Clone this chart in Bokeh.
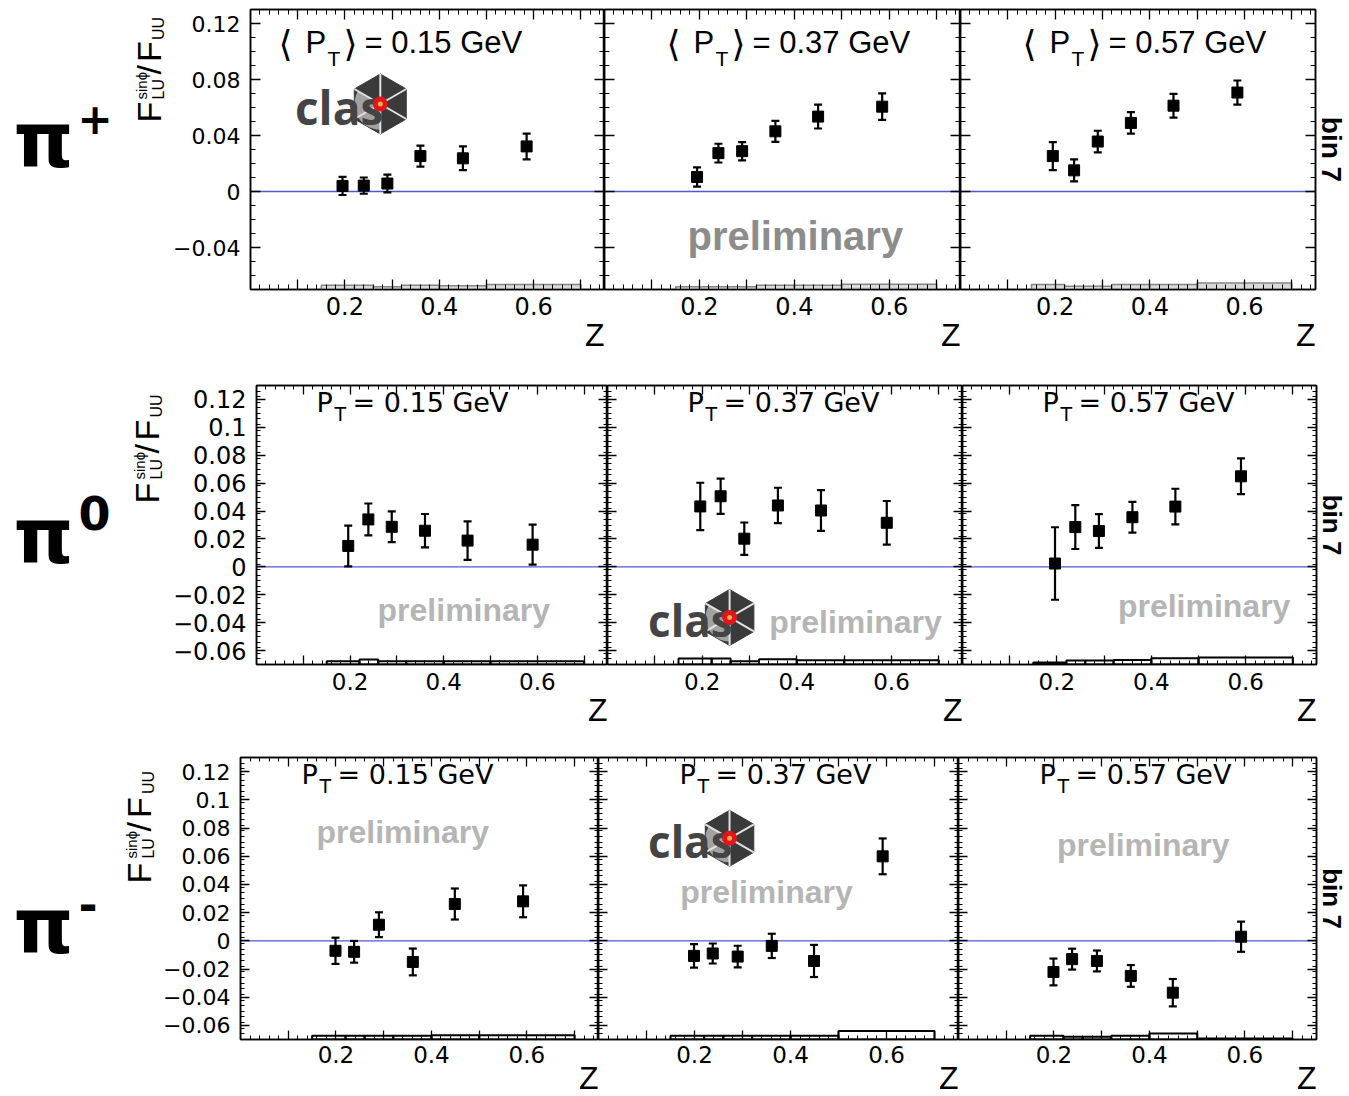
import math
from bokeh.plotting import figure
from bokeh.layouts import column, row
from bokeh.models import (ColumnDataSource, Whisker, TeeHead, Span, Label, Title,
                          LinearAxis, FixedTicker, Range1d)
from bokeh.core.properties import value
from bokeh.embed import file_html
from bokeh.resources import INLINE

# ------------------------------------------------------------------ data
hadron_names = ["π", "π", "π"]
hadron_charges = ["+", "0", "-"]
pt_means = ["0.15", "0.37", "0.57"]

z_pip = [0.195, 0.240, 0.290, 0.360, 0.450, 0.585]
z_pi0 = [0.196, 0.239, 0.289, 0.360, 0.451, 0.590]
z_pim = [0.199, 0.238, 0.290, 0.361, 0.449, 0.592]
z_bin_edges = [0.15, 0.22, 0.26, 0.32, 0.40, 0.50, 0.70]

# pi+  (F_LU^sin(phi)/F_UU, stat. error, systematic band height)
pip_pt015 = [0.0040, 0.0042, 0.0057, 0.0253, 0.0237, 0.0322]
pip_pt015_err = [0.0065, 0.0058, 0.0063, 0.0075, 0.0085, 0.0092]
pip_pt015_sys = [0.0030, 0.0030, 0.0020, 0.0030, 0.0027, 0.0035]
pip_pt037 = [0.0104, 0.0274, 0.0288, 0.0430, 0.0535, 0.0606]
pip_pt037_err = [0.0069, 0.0067, 0.0065, 0.0075, 0.0085, 0.0095]
pip_pt037_sys = [0.0020, 0.0020, 0.0020, 0.0030, 0.0030, 0.0038]
pip_pt057 = [0.0253, 0.0151, 0.0357, 0.0490, 0.0613, 0.0707]
pip_pt057_err = [0.0100, 0.0079, 0.0077, 0.0077, 0.0085, 0.0086]
pip_pt057_sys = [0.0036, 0.0024, 0.0024, 0.0036, 0.0036, 0.0047]

# pi0
pi0_pt015 = [0.0150, 0.0340, 0.0287, 0.0259, 0.0188, 0.0159]
pi0_pt015_err = [0.0146, 0.0114, 0.0110, 0.0120, 0.0138, 0.0143]
pi0_pt015_sys = [0.0024, 0.0036, 0.0024, 0.0024, 0.0024, 0.0024]
pi0_pt037 = [0.0433, 0.0506, 0.0202, 0.0440, 0.0404, 0.0316]
pi0_pt037_err = [0.0170, 0.0126, 0.0116, 0.0127, 0.0146, 0.0156]
pi0_pt037_sys = [0.0043, 0.0043, 0.0024, 0.0038, 0.0031, 0.0031]
pi0_pt057 = [0.0024, 0.0285, 0.0257, 0.0356, 0.0432, 0.0649]
pi0_pt057_err = [0.0260, 0.0157, 0.0121, 0.0110, 0.0128, 0.0128]
pi0_pt057_sys = [0.0014, 0.0028, 0.0028, 0.0033, 0.0045, 0.0050]

# pi-
pim_pt015 = [-0.0071, -0.0078, 0.0114, -0.0150, 0.0261, 0.0280]
pim_pt015_err = [0.0093, 0.0077, 0.0088, 0.0095, 0.0110, 0.0113]
pim_pt015_sys = [0.0026, 0.0026, 0.0026, 0.0026, 0.0030, 0.0030]
pim_pt037 = [-0.0107, -0.0090, -0.0112, -0.0036, -0.0143, 0.0599]
pim_pt037_err = [0.0083, 0.0071, 0.0077, 0.0086, 0.0114, 0.0127]
pim_pt037_sys = [0.0026, 0.0026, 0.0026, 0.0026, 0.0026, 0.0060]
pim_pt057 = [-0.0221, -0.0130, -0.0143, -0.0249, -0.0368, 0.0029]
pim_pt057_err = [0.0095, 0.0074, 0.0074, 0.0077, 0.0097, 0.0107]
pim_pt057_sys = [0.0026, 0.0019, 0.0019, 0.0026, 0.0043, 0.0007]

x_major_ticks = [0.1, 0.2, 0.3, 0.4, 0.5, 0.6, 0.7]
x_tick_labels = ["", "0.2", "", "0.4", "", "0.6", ""]
y_ticks_row1 = [-0.04, 0.0, 0.04, 0.08, 0.12]
y_labels_row1 = ["\u22120.04", "0", "0.04", "0.08", "0.12"]
y_ticks_rows23 = [-0.06, -0.04, -0.02, 0.0, 0.02, 0.04, 0.06, 0.08, 0.1, 0.12]
y_labels_rows23 = ["\u22120.06", "\u22120.04", "\u22120.02", "0", "0.02", "0.04",
                   "0.06", "0.08", "0.1", "0.12"]

DATA = [
    [(z_pip, pip_pt015, pip_pt015_err, pip_pt015_sys),
     (z_pip, pip_pt037, pip_pt037_err, pip_pt037_sys),
     (z_pip, pip_pt057, pip_pt057_err, pip_pt057_sys)],
    [(z_pi0, pi0_pt015, pi0_pt015_err, pi0_pt015_sys),
     (z_pi0, pi0_pt037, pi0_pt037_err, pi0_pt037_sys),
     (z_pi0, pi0_pt057, pi0_pt057_err, pi0_pt057_sys)],
    [(z_pim, pim_pt015, pim_pt015_err, pim_pt015_sys),
     (z_pim, pim_pt037, pim_pt037_err, pim_pt037_sys),
     (z_pim, pim_pt057, pim_pt057_err, pim_pt057_sys)],
]

# ------------------------------------------------------------------ layout / style
X0, X1 = 0.0, 0.75
Y0, Y1 = -0.07, 0.13
BASE_CORR = 0.33          # alphabetic-baseline correction (fraction of font size)

ROWS = [
    dict(H=375, left=250, lw=170, widths=[354, 356, 356], top=9, fh=280, right=33,
         yt=y_ticks_row1, yl=y_labels_row1, ystep=0.01, ytick_px=22, xtick_px=24,
         xstand=7, z_stand=-6, major_in=10, minor_in=5,
         pi=(13, 156, 76), sup=(77, 123, 42),
         ytitle=(160, 113, 0.96), bin_px=28),
    dict(H=375, left=253, lw=169, widths=[354, 355, 356], top=10, fh=279, right=31,
         yt=y_ticks_rows23, yl=y_labels_rows23, ystep=0.004, ytick_px=24, xtick_px=23,
         xstand=8, z_stand=-6, major_in=9, minor_in=4,
         pi=(13, 176, 76), sup=(78, 143, 46),
         ytitle=(158, 118, 1.0), bin_px=26),
    dict(H=346, left=240, lw=160, widths=[358, 360, 361], top=7, fh=282, right=30,
         yt=y_ticks_rows23, yl=y_labels_rows23, ystep=0.004, ytick_px=22, xtick_px=23,
         xstand=6, z_stand=-15, major_in=9, minor_in=4,
         pi=(13, 194, 76), sup=(78, 162, 46),
         ytitle=(150, 126, 1.04), bin_px=26),
]

# "preliminary" watermark positions (data coords, centre / baseline) per panel
PRELIM = {
    (0, 1): (0.402, -0.041, 40, "#8c8c8c"),
    (1, 0): (0.443, -0.0385, 32, "#b5b5b5"),
    (1, 1): (0.524, -0.047, 32, "#b5b5b5"),
    (1, 2): (0.512, -0.0356, 32, "#b5b5b5"),
    (2, 0): (0.340, 0.070, 32, "#b5b5b5"),
    (2, 1): (0.350, 0.027, 32, "#b5b5b5"),
    (2, 2): (0.387, 0.0606, 32, "#b5b5b5"),
}
# CLAS logo (hexagon centre in data coords, hex size px, text px)
LOGO = {
    (0, 0): (0.275, 0.0625, 60, 46),
    (1, 1): (0.258, -0.0363, 56, 44),
    (2, 1): (0.273, 0.0727, 56, 44),
}


def frame_label(p, text, dx, dy, size, font="Liberation Sans", style="normal",
                color="black", align="left", x0=X0, y0=Y1, angle=0.0):
    """Text whose baseline start sits dx, dy pixels (y down) from the frame's top-left."""
    c = BASE_CORR * size
    if angle == 0.0:
        xo, yo = dx, -(dy - c)
    else:                       # rotated by +90 deg: text 'up' points to screen left
        xo, yo = dx - c, -dy
    p.add_layout(Label(x=x0, y=y0, x_offset=xo, y_offset=yo,
                       text=text, text_font=font, text_font_size=f"{size}px",
                       text_font_style=style, text_color=color, angle=angle,
                       text_align=align, text_baseline="alphabetic"))


def style_axis(ax, ticks, minor, labels, show, font_px, standoff, major_in, minor_in):
    ax.ticker = FixedTicker(ticks=ticks, minor_ticks=minor)
    ax.major_tick_in = major_in
    ax.major_tick_out = 0
    ax.minor_tick_in = minor_in
    ax.minor_tick_out = 0
    ax.axis_line_color = "black"
    ax.axis_line_width = 1.5
    ax.major_tick_line_color = "black"
    ax.major_tick_line_width = 1.3
    ax.minor_tick_line_color = "black"
    ax.minor_tick_line_width = 1.0
    if show:
        ax.major_label_overrides = {t: l for t, l in zip(ticks, labels)}
        ax.major_label_text_font = "DejaVu Sans"
        ax.major_label_text_font_size = f"{font_px}px"
        ax.major_label_text_color = "black"
        ax.major_label_standoff = standoff
    else:
        ax.major_label_text_color = None
        ax.major_label_text_font_size = "0px"
        ax.major_label_standoff = 0


def make_panel(ri, ci):
    cfg = ROWS[ri]
    w = cfg["widths"][ci]
    ml = (cfg["left"] - cfg["lw"]) if ci == 0 else 0
    mr = cfg["right"] if ci == 2 else 0
    H = cfg["H"]
    bottom = H - cfg["top"] - cfg["fh"]
    p = figure(width=ml + w + mr, height=H,
               x_range=Range1d(X0, X1), y_range=Range1d(Y0, Y1),
               x_axis_location=None, y_axis_location=None,
               output_backend="svg", toolbar_location=None,
               min_border_left=ml, min_border_right=mr,
               min_border_top=cfg["top"], min_border_bottom=bottom)
    p.grid.visible = False
    p.outline_line_color = "black"
    p.outline_line_width = 1.5
    p.background_fill_color = "white"
    p.border_fill_color = "white"

    ppx = w / (X1 - X0)
    ppy = cfg["fh"] / (Y1 - Y0)

    x_minor = [round(0.02 * i, 3) for i in range(38)]
    y_minor = [round(Y0 + cfg["ystep"] * i, 4)
               for i in range(int(round((Y1 - Y0) / cfg["ystep"])) + 1)]

    for loc in ("below", "above"):
        ax = LinearAxis()
        style_axis(ax, x_major_ticks, x_minor, x_tick_labels, loc == "below",
                   cfg["xtick_px"], cfg["xstand"], cfg["major_in"], cfg["minor_in"])
        p.add_layout(ax, loc)
    for loc in ("left", "right"):
        ax = LinearAxis()
        style_axis(ax, cfg["yt"], y_minor, cfg["yl"], (loc == "left" and ci == 0),
                   cfg["ytick_px"], 10, cfg["major_in"], cfg["minor_in"])
        p.add_layout(ax, loc)

    # axis title "Z" below the axis, right-aligned
    p.add_layout(Title(text="Z", align="right", text_font="Liberation Sans",
                       text_font_size="32px", text_font_style="normal",
                       text_color="black", standoff=cfg["z_stand"]), "below")
    if ci == 2:
        p.add_layout(Title(text="bin 7", align="center", text_font="Liberation Sans",
                           text_font_size=f"{cfg['bin_px']}px", text_font_style="bold",
                           text_color="black", standoff=1), "right")

    z, vals, errs, sys_ = DATA[ri][ci]

    # zero line
    p.add_layout(Span(location=0, dimension="width", line_color="#4a5ad8",
                      line_width=1.3, level="underlay"))

    # systematic band at bottom
    sys_src = ColumnDataSource(dict(left=z_bin_edges[:-1], right=z_bin_edges[1:],
                                    bottom=[Y0] * len(sys_),
                                    top=[Y0 + s for s in sys_]))
    if ri == 0:
        p.quad(left="left", right="right", bottom="bottom", top="top", source=sys_src,
               fill_color="#d9d9d9", line_color="#858585", line_width=1.5)
    else:
        p.quad(left="left", right="right", bottom="bottom", top="top", source=sys_src,
               fill_color=None, line_color="black", line_width=2)

    # watermark
    if (ri, ci) in PRELIM:
        px_, py_, sz, col = PRELIM[(ri, ci)]
        p.add_layout(Label(x=px_, y=py_, y_offset=BASE_CORR * sz, text="preliminary",
                           text_font="Liberation Sans", text_font_style="bold",
                           text_font_size=f"{sz}px", text_color=col,
                           text_align="center", text_baseline="alphabetic",
                           level="underlay"))

    # logo
    if (ri, ci) in LOGO:
        hx, hy, hs, ts = LOGO[(ri, ci)]
        p.scatter(x=[hx], y=[hy], marker="hex", size=hs, angle=math.pi / 6,
                  fill_color="#3a3a3a", line_color="#3a3a3a")
        p.wedge(x=[hx], y=[hy], radius=hs * 0.43, radius_units="screen",
                start_angle=math.radians(150), end_angle=math.radians(270),
                fill_color="#a2a2a2", line_color=None)
        p.ray(x=[hx] * 6, y=[hy] * 6, length=hs / 2, length_units="screen",
              angle=[math.radians(a) for a in (30, 90, 150, 210, 270, 330)],
              line_color="#e2e2e2", line_width=2)
        ty = hy - (0.38 * hs - 0.42 * ts) / ppy
        p.text(x=[hx + 3 / ppx], y=[ty], text=["clas"], text_font=value("Open Sans"),
               text_font_size=f"{ts}px", text_font_style="bold", text_color="#444444",
               text_align="right", text_baseline="alphabetic")
        p.scatter(x=[hx], y=[hy], marker="circle", size=15, fill_color="#e3141c",
                  line_color=None)
        p.scatter(x=[hx], y=[hy], marker="circle", size=5, fill_color="#f3b23a",
                  line_color=None)

    # data points with statistical errors
    src = ColumnDataSource(dict(z=z, a=vals,
                                lo=[v - e for v, e in zip(vals, errs)],
                                hi=[v + e for v, e in zip(vals, errs)]))
    lw = 2.2
    p.add_layout(Whisker(source=src, base="z", lower="lo", upper="hi",
                         line_color="black", line_width=lw,
                         upper_head=TeeHead(size=8, line_width=lw, line_color="black"),
                         lower_head=TeeHead(size=8, line_width=lw, line_color="black")))
    p.scatter(x="z", y="a", source=src, marker="square", size=11,
              fill_color="black", line_color="black")

    # panel title
    pt = pt_means[ci]
    if ri == 0:
        d0 = 30 if ci == 0 else 64
        f = "Liberation Sans"
        frame_label(p, "\u27e8", d0 - 2, 46, 36, font="DejaVu Sans")
        frame_label(p, "P", d0 + 25, 43, 31, font=f)
        frame_label(p, "T", d0 + 47, 56, 21, font=f)
        frame_label(p, "\u27e9", d0 + 63, 46, 36, font="DejaVu Sans")
        frame_label(p, f"= {pt} GeV", d0 + 84, 43, 31, font=f)
    else:
        d0 = (60 if ci == 0 else 80) + (1 if ri == 2 else 0)
        f = "DejaVu Sans"
        frame_label(p, "P", d0, 26, 27, font=f)
        frame_label(p, "T", d0 + 18, 35, 19, font=f)
        frame_label(p, f"= {pt} GeV", d0 + 36, 26, 27, font=f)
    return p


def make_side(ri):
    cfg = ROWS[ri]
    H, W = cfg["H"], cfg["lw"]
    p = figure(width=W, height=H, x_range=Range1d(0, W), y_range=Range1d(0, H),
               x_axis_location=None, y_axis_location=None,
               output_backend="svg", toolbar_location=None,
               min_border=0)
    p.grid.visible = False
    p.outline_line_color = None
    p.background_fill_color = "white"
    p.border_fill_color = "white"
    # all side texts are anchored at the top-left corner of the figure
    x, y, s = cfg["pi"]
    frame_label(p, hadron_names[ri], x, y, s, font="DejaVu Sans", style="bold",
                x0=0, y0=H)
    x, y, s = cfg["sup"]
    frame_label(p, hadron_charges[ri], x, y, s, font="DejaVu Sans", style="bold",
                x0=0, y0=H)
    # y-axis title F_LU^{sin phi}/F_UU, rotated, reading upwards
    bx, by, sc = cfg["ytitle"]
    pieces = [("F", 0, 0, 34), ("sin\u03d5", 24, 14, 15), ("LU", 24, -3, 16),
              ("/", 50, 0, 34), ("F", 63, 0, 34), ("UU", 86, -3, 16)]
    for txt, u, v, sz in pieces:
        frame_label(p, txt, bx - v, by - u * sc, sz, font="Liberation Sans",
                    x0=0, y0=H, angle=math.pi / 2)
    return p


rows = []
for ri in range(3):
    rows.append(row(make_side(ri), *[make_panel(ri, ci) for ci in range(3)]))
layout = column(*rows)

open("out.html", "w").write(file_html(layout, INLINE))
